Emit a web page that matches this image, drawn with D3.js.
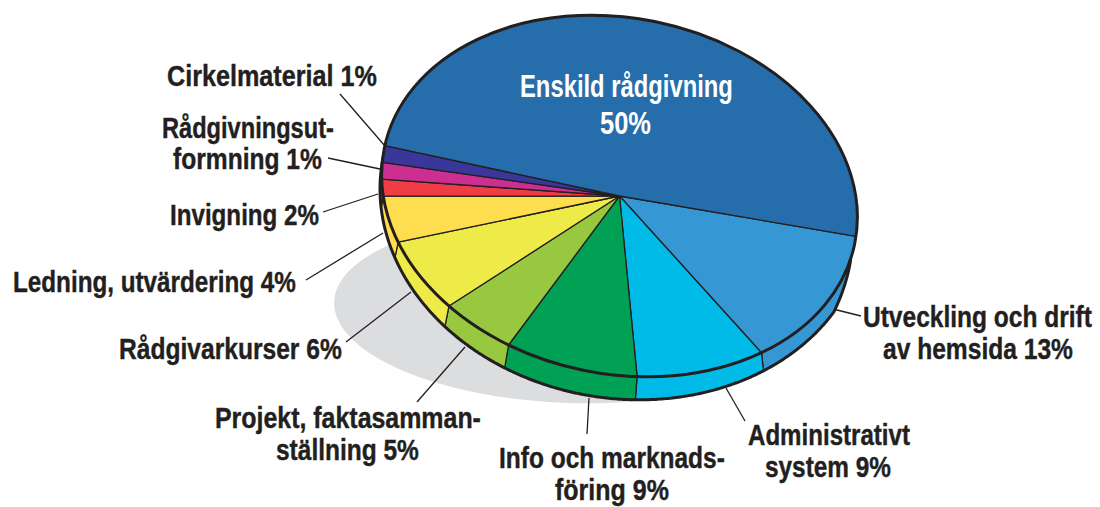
<!DOCTYPE html>
<html>
<head>
<meta charset="utf-8">
<script src="https://cdnjs.cloudflare.com/ajax/libs/d3/7.8.5/d3.min.js"></script>
<style>
  html, body { margin: 0; padding: 0; background: #fff; }
  svg { display: block; }
  text { font-family: "Liberation Sans Narrow", "Liberation Sans", sans-serif; font-weight: bold; }
</style>
</head>
<body>
<script>
// Posts clockwise from the cut on the right hand side
var categories = [
  'Utveckling och drift av hemsida',
  'Administrativt system',
  'Info och marknadsföring',
  'Projekt, faktasammanställning',
  'Rådgivarkurser',
  'Ledning, utvärdering',
  'Invigning',
  'Rådgivningsutformning',
  'Cirkelmaterial',
  'Enskild rådgivning'
];
// slice sizes as drawn in the picture, the printed labels are rounded
var shares = [13.1, 9, 8.9, 5, 6.3, 4.1, 1.5, 1.5, 1.5, 49.1];
var colors = ['#3597d4', '#00bbe7', '#00a055', '#98c83f', '#eeea47',
              '#fedd4e', '#f03c45', '#cb2f92', '#39379a', '#266eab'];

var w = 1100,
    h = 507;

var ink = '#231f20';
var rad = Math.PI / 180;

var svg = d3.select('body')
            .append('svg')
            .attr('width', w)
            .attr('height', h);

var startAngle = 87.7 * rad;

var pie = d3.pie()
            .sort(null)
            .startAngle(startAngle)
            .endAngle(startAngle + 2 * Math.PI);

var slices = pie(shares);

// the disc is a flat pie tilted in space: same arcs, squashed and turned
var face = { x: 619.5, y: 196, rx: 240, ry: 178, rot: 11.4 };

// d3 angle (0 at 12 o'clock) to a point on the disc rim
function rimPoint(a) {
  var u = face.rx * Math.sin(a),
      v = -face.ry * Math.cos(a),
      c = Math.cos(face.rot * rad),
      s = Math.sin(face.rot * rad);
  return [face.x + u * c - v * s, face.y + u * s + v * c];
}

// lower edge of the side wall, it is not quite a copy of the rim
function lowPoint(a) {
  var t = a - Math.PI / 2,
      c = Math.cos(t),
      s = Math.sin(t),
      p = [623.1 + 239.5 * c - 41.6 * s, 202.2 + 46.8 * c + 192 * s],
      r = rimPoint(a),
      k = Math.max(0, Math.min(1, (t / rad - 5) / 15)); // fades into the rim on the right
  return [r[0] + (p[0] - r[0]) * k, r[1] + (p[1] - r[1]) * k];
}

function steps(a0, a1) {
  var n = Math.max(2, Math.ceil((a1 - a0) / (0.5 * rad)));
  return d3.range(n + 1).map(function(i) { return a0 + (a1 - a0) * i / n; });
}

var line = d3.line();

// side wall only shows between these angles
var wallFrom = 95 * rad,
    wallTo = 275 * rad;

function wallPath(d) {
  var a0 = Math.max(d.startAngle, wallFrom),
      a1 = Math.min(d.endAngle, wallTo);
  if (a1 <= a0) return null;
  var upper = steps(a0, a1).map(rimPoint),
      lower = steps(a0, a1).reverse().map(lowPoint);
  return line(upper.concat(lower)) + 'Z';
}

// Shadow under the disc
svg.append('ellipse')
   .attr('rx', 236)
   .attr('ry', 93)
   .attr('transform', 'translate(570,310) rotate(2)')
   .attr('fill', '#dcddde');

// Leader lines
var leaders = [
  [861, 316, 833, 309],
  [745, 421, 726, 388],
  [587, 434, 589, 398],
  [417, 402, 465, 347],
  [346, 342, 411, 292],
  [306, 280, 383, 233],
  [323, 212, 378, 194],
  [328, 158, 380, 169],
  [340, 94, 385, 146]
];

svg.selectAll('line')
   .data(leaders)
   .enter()
   .append('line')
   .attr('x1', function(d) { return d[0]; })
   .attr('y1', function(d) { return d[1]; })
   .attr('x2', function(d) { return d[2]; })
   .attr('y2', function(d) { return d[3]; })
   .attr('stroke', ink)
   .attr('stroke-width', 1.3);

// Side wall
svg.append('g')
   .selectAll('path')
   .data(slices.filter(wallPath))
   .enter()
   .append('path')
   .attr('d', wallPath)
   .attr('fill', function(d) { return colors[d.index]; })
   .attr('stroke', ink)
   .attr('stroke-width', 1.3)
   .attr('stroke-linejoin', 'round');

svg.append('path')
   .attr('d', line(steps(wallFrom, wallTo).map(lowPoint)))
   .attr('fill', 'none')
   .attr('stroke', ink)
   .attr('stroke-width', 3);

// Top of the disc
var arc = d3.arc().innerRadius(0).outerRadius(face.rx);

var disc = svg.append('g')
              .attr('transform', 'translate(' + face.x + ',' + face.y + ') rotate(' + face.rot + ') scale(1,' + (face.ry / face.rx) + ')');

disc.selectAll('path')
    .data(slices)
    .enter()
    .append('path')
    .attr('d', arc)
    .attr('fill', function(d, i) { return colors[i]; })
    .attr('stroke', ink)
    .attr('stroke-width', 1.3)
    .attr('stroke-linejoin', 'round')
    .attr('vector-effect', 'non-scaling-stroke');

disc.append('circle')
    .attr('r', face.rx)
    .attr('fill', 'none')
    .attr('stroke', ink)
    .attr('stroke-width', 3)
    .attr('vector-effect', 'non-scaling-stroke');

// Label lines: text, left edge, right edge, baseline
var labels = [
  ['Cirkelmaterial 1%', 167, 377, 86],
  ['Rådgivningsut-', 162, 334, 138],
  ['formning 1%', 173, 322, 169],
  ['Invigning 2%', 170, 319, 225],
  ['Ledning, utvärdering 4%', 13, 296, 292],
  ['Rådgivarkurser 6%', 119, 342, 359],
  ['Projekt, faktasamman-', 215, 481, 428],
  ['ställning 5%', 276, 419, 460],
  ['Info och marknads-', 499, 725, 468],
  ['föring 9%', 555, 669, 500],
  ['Administrativt', 748, 910, 445],
  ['system 9%', 765, 891, 477],
  ['Utveckling och drift', 863, 1092, 327],
  ['av hemsida 13%', 883, 1073, 359]
];

// The big slice carries its label inside
var inside = [
  ['Enskild rådgivning', 520, 733, 97],
  ['50%', 600, 651, 134]
];

// squeeze each line sideways so it spans the same width as in the picture
function fitLine(d) {
  var natural = this.getComputedTextLength();
  d3.select(this)
    .attr('transform', 'translate(' + d[1] + ',' + d[3] + ') scale(' + ((d[2] - d[1]) / natural) + ',1)');
}

svg.selectAll('text.label')
   .data(labels)
   .enter()
   .append('text')
   .attr('class', 'label')
   .attr('font-size', 29)
   .attr('fill', ink)
   .attr('stroke', ink)
   .attr('stroke-width', 0.4)
   .text(function(d) { return d[0]; })
   .each(fitLine);

svg.selectAll('text.inside')
   .data(inside)
   .enter()
   .append('text')
   .attr('class', 'inside')
   .attr('font-size', 31)
   .attr('fill', '#fff')
   .text(function(d) { return d[0]; })
   .each(fitLine);
</script>
</body>
</html>
